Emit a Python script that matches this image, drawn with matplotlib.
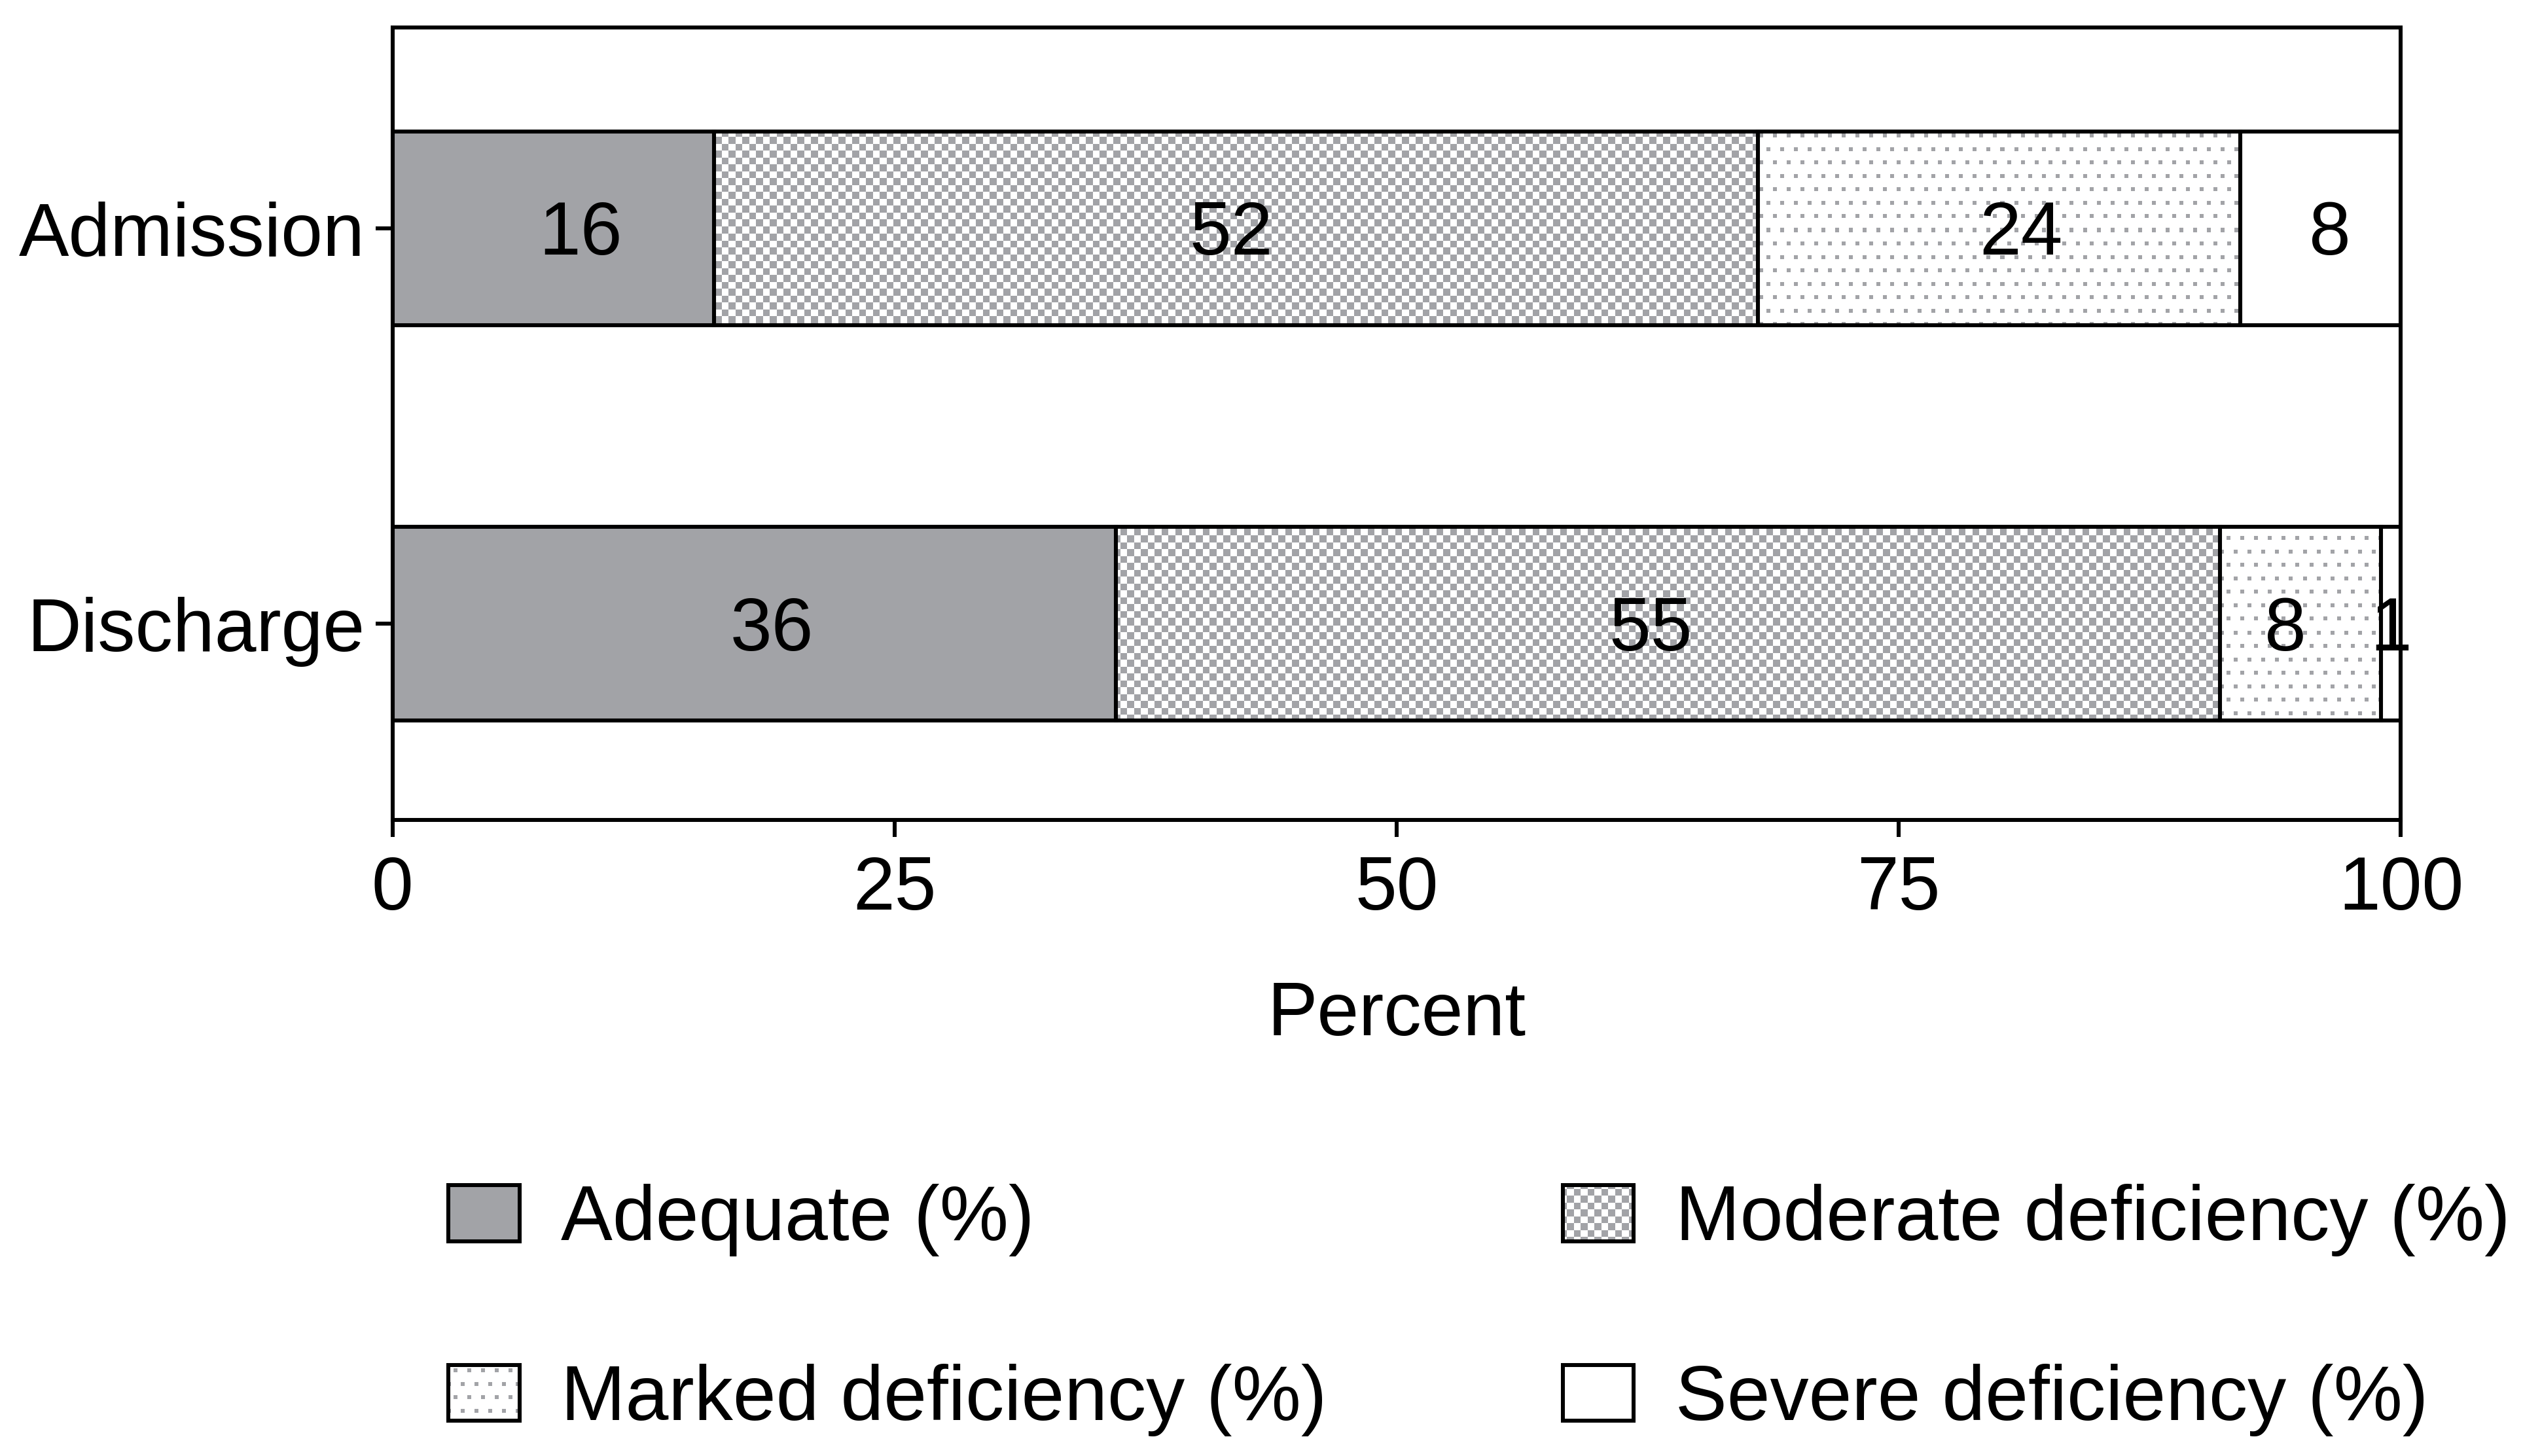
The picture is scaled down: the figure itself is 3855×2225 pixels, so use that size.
import numpy as np
import matplotlib
matplotlib.use("Agg")
import matplotlib.pyplot as plt
from matplotlib.patches import Patch

plt.rcParams['font.family'] = ['Liberation Sans', 'DejaVu Sans']

# data
groups = ["Admission", "Discharge"]
adequate = [16, 36]
moderate = [52, 55]
marked = [24, 8]
severe = [8, 1]
series = ["Adequate (%)", "Moderate deficiency (%)", "Marked deficiency (%)", "Severe deficiency (%)"]
xticks = [0, 25, 50, 75, 100]

# small horizontal nudges (in %) of the value labels, as placed in the original
label_dx = [[1.35, 0.9], [-0.25, -0.85], [1.1, -0.75], [0.45, 0.0]]

GRAY = "#a2a3a7"
GRAY_RGB = np.array([0xa2, 0xa3, 0xa7]) / 255.0
W, H, DPI = 3855, 2225, 300
FS = 27.5
LFS = 28.4
LW = 1.45

fig = plt.figure(figsize=(W / DPI, H / DPI), dpi=DPI)
ax = fig.add_axes([0.1556, 0.4369, 0.7960, 0.5442])
ax.set_xlim(0, 100)
ax.set_ylim(1.496, -0.508)


def texture(kind, x0, ytop, w, h):
    # pattern in absolute figure pixels so neighbouring pieces line up, row 0 = top
    X = np.arange(x0, x0 + w)[None, :].astype(float)
    Y = np.arange(ytop, ytop + h)[:, None].astype(float)
    if kind == "checker":
        on = ((X // 10.5).astype(int) + (Y // 10.5).astype(int)) % 2 == 0
    else:
        rowidx = (Y // 20.5).astype(int)
        on = ((Y % 20.5) < 6) & (((X + (rowidx % 2) * 10.5) % 21) < 6)
    img = np.ones((h, w, 3))
    img[on] = GRAY_RGB
    return img


ypos = np.arange(len(groups))
left = np.zeros(len(groups))
cols = [adequate, moderate, marked, severe]
faces = [GRAY, "white", "white", "white"]
kinds = [None, "checker", "dots", None]

for k, (vals, face, kind) in enumerate(zip(cols, faces, kinds)):
    vals = np.array(vals, dtype=float)
    bars = ax.barh(ypos, vals, left=left, height=0.49, color=face, edgecolor="none", zorder=1)
    ax.barh(ypos, vals, left=left, height=0.49, fill=False, edgecolor="black", lw=LW, zorder=3)
    if kind:
        for b in bars:
            (px0, py0), (px1, py1) = ax.transData.transform(
                [(b.get_x(), b.get_y()), (b.get_x() + b.get_width(), b.get_y() + b.get_height())])
            x0 = int(round(min(px0, px1)))
            w = int(round(abs(px1 - px0)))
            ytop = int(round(H - max(py0, py1)))
            h = int(round(abs(py1 - py0)))
            ax.imshow(texture(kind, x0, ytop, w, h),
                      extent=(b.get_x(), b.get_x() + b.get_width(), b.get_y() + b.get_height(), b.get_y()),
                      aspect="auto", interpolation="nearest", zorder=2)
    for j, (b, v) in enumerate(zip(bars, vals)):
        ax.text(b.get_x() + b.get_width() / 2 + label_dx[k][j], b.get_y() + b.get_height() / 2 + 0.018,
                "%d" % v, ha="center", va="center", fontsize=FS, zorder=4)
    left += vals

ax.set_xlim(0, 100)
ax.set_ylim(1.496, -0.508)
ax.set_xticks(xticks)
ax.set_yticks(ypos)
ax.set_yticklabels(groups)
ax.tick_params(length=6.2, width=LW, labelsize=FS)
ax.tick_params(axis="x", pad=6.8)
ax.tick_params(axis="y", pad=4)
for s in ax.spines.values():
    s.set_linewidth(LW)
ax.set_xlabel("Percent", fontsize=FS, labelpad=20.5)

# legend: column-wise fill, so order is Adequate, Marked, Moderate, Severe
order = [0, 2, 1, 3]
hfaces = [GRAY, "none", "none", "white"]
handles = [Patch(facecolor=hfaces[i], edgecolor="black", lw=LW) for i in order]
labels = [series[i] for i in order]
leg = fig.legend(handles, labels, ncol=2, loc="upper left", bbox_to_anchor=(0.1776, 0.1868),
                 frameon=False, fontsize=LFS, handlelength=0.92, handleheight=0.73,
                 handletextpad=0.54, columnspacing=3.04, labelspacing=1.38,
                 borderpad=0, borderaxespad=0)

fig.canvas.draw()
for p, i in zip(leg.legend_handles, order):
    kind = kinds[i]
    if not kind:
        continue
    bb = p.get_window_extent()
    x0, y0 = int(round(bb.x0)), int(round(bb.y0))
    w, h = int(round(bb.width)), int(round(bb.height))
    fig.figimage(texture(kind, x0, H - (y0 + h), w, h), xo=x0, yo=y0, origin="upper", zorder=4)

fig.savefig("out.png", dpi=DPI)
